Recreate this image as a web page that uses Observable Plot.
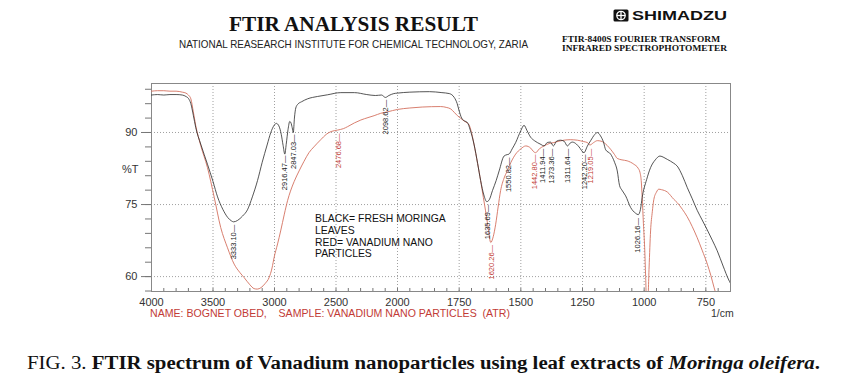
<!DOCTYPE html>
<html><head><meta charset="utf-8">
<script src="https://cdn.jsdelivr.net/npm/d3@7"></script>
<script src="https://cdn.jsdelivr.net/npm/@observablehq/plot@0.6"></script>
<style>
html,body{margin:0;padding:0;background:#fff}
#page{position:relative;width:848px;height:384px;overflow:hidden}
#chart{position:absolute;left:0;top:0}
.t{position:absolute;white-space:nowrap;line-height:1;transform-origin:0 0}
.sans{font-family:"Liberation Sans",Arial,sans-serif}
.serif{font-family:"Liberation Serif","Times New Roman",serif}
</style></head><body><div id="page"><div id="chart"></div></div>
<script>
// ---- data (wavenumber 1/cm, %T) ----
const blackSpectrum = [
[4000,97.8],[3950,97.9],[3900,97.8],[3850,97.9],[3800,97.9],[3750,97.8],[3720,97.5],[3700,97.1],[3680,96.0],[3660,93.6],[3640,91.0],[3600,87.6],[3545,83.4],[3500,79.8],[3463,76.6],[3420,74.0],[3380,72.3],[3350,71.6],[3333,71.4],[3300,71.7],[3260,72.6],[3220,73.9],[3180,76.6],[3138,80.0],[3100,83.8],[3060,87.4],[3030,90.0],[3003,91.5],[2985,91.9],[2965,91.4],[2945,89.6],[2930,87.3],[2916,85.5],[2905,87.5],[2890,90.6],[2876,92.3],[2866,92.0],[2856,91.0],[2847,90.0],[2838,93.0],[2827,95.1],[2810,95.9],[2780,96.4],[2732,97.0],[2650,97.5],[2569,97.85],[2461,98.3],[2350,98.3],[2250,97.9],[2180,97.7],[2130,97.8],[2098,97.3],[2070,97.7],[2030,98.1],[2000,98.2],[1950,98.4],[1870,98.5],[1820,98.3],[1790,98.1],[1770,97.3],[1758,96.0],[1750,94.5],[1740,93.0],[1728,92.4],[1717,92.1],[1705,90.5],[1690,87.6],[1675,83.5],[1663,80.0],[1650,77.0],[1638,75.6],[1628,76.0],[1615,77.9],[1600,80.0],[1588,82.0],[1568,85.1],[1555,85.4],[1548,85.5],[1535,86.6],[1521,87.9],[1500,90.4],[1487,91.5],[1475,90.4],[1460,89.0],[1445,88.3],[1433,87.9],[1418,87.5],[1406,87.2],[1393,87.9],[1380,88.0],[1368,87.2],[1355,88.2],[1340,88.4],[1325,88.2],[1311,87.2],[1300,87.8],[1291,88.0],[1275,87.6],[1264,87.0],[1244,85.8],[1230,87.2],[1217,88.3],[1200,89.6],[1190,90.0],[1177,89.3],[1165,88.0],[1156,86.4],[1136,85.5],[1120,83.8],[1109,82.0],[1100,79.0],[1090,78.0],[1075,76.8],[1055,74.4],[1035,73.2],[1024,72.9],[1015,74.0],[1008,76.5],[990,80.2],[974,82.7],[955,84.3],[936,85.1],[920,84.8],[906,84.4],[880,83.6],[866,83.0],[845,81.0],[825,78.5],[805,76.2],[785,73.8],[765,71.8],[744,69.7],[724,67.6],[704,65.4],[680,62.2],[657,59.3],[650,58.6]
];
const redSpectrum = [
[4000,98.6],[3950,98.7],[3900,98.7],[3850,98.6],[3800,98.6],[3750,98.4],[3720,98.2],[3700,97.8],[3680,97.0],[3660,94.3],[3640,91.4],[3600,87.3],[3545,82.7],[3490,76.5],[3437,70.2],[3382,66.0],[3328,62.6],[3280,60.8],[3247,59.8],[3200,58.3],[3166,57.5],[3140,57.4],[3110,57.7],[3075,58.6],[3044,59.8],[3020,61.8],[3003,64.0],[2975,66.8],[2950,69.5],[2920,73.0],[2894,75.8],[2870,77.8],[2840,79.8],[2800,82.0],[2760,84.0],[2720,85.8],[2680,87.0],[2624,88.5],[2580,89.6],[2540,90.2],[2488,90.5],[2440,90.8],[2407,91.2],[2350,92.0],[2298,92.6],[2240,93.1],[2190,93.5],[2136,94.0],[2081,94.3],[2000,94.8],[1950,95.1],[1900,95.3],[1825,95.4],[1800,95.2],[1784,94.9],[1770,94.2],[1757,93.5],[1745,93.0],[1730,92.4],[1718,92.0],[1710,91.6],[1700,90.0],[1690,87.6],[1675,83.5],[1663,80.0],[1652,76.5],[1643,73.7],[1632,70.0],[1622,67.1],[1612,68.3],[1602,70.9],[1592,74.5],[1582,77.9],[1568,80.5],[1555,82.0],[1540,83.8],[1521,85.5],[1500,86.6],[1480,87.2],[1460,86.75],[1448,86.0],[1440,85.8],[1425,86.6],[1406,87.2],[1385,87.7],[1366,87.9],[1345,88.2],[1325,88.4],[1300,88.5],[1271,88.4],[1245,88.1],[1230,87.9],[1220,87.4],[1205,87.9],[1190,88.3],[1175,88.2],[1163,87.9],[1150,87.3],[1136,86.5],[1120,85.4],[1109,84.6],[1090,84.3],[1069,84.1],[1042,83.4],[1025,82.6],[1017,81.7],[1012,80.0],[1008,76.5],[1003,71.0],[998,66.0],[994,60.0],[990,54.0],[986,54.0],[980,62.0],[974,69.5],[967,73.5],[961,76.0],[950,77.6],[941,78.2],[930,78.1],[906,77.6],[880,76.1],[866,75.4],[845,74.0],[826,72.5],[805,70.4],[785,68.1],[765,65.5],[744,62.6],[730,60.3],[717,57.8],[704,55.5],[690,53.0]
];
const blackPeakWn = [3333.10, 2916.47, 2847.03, 2098.62, 1635.69, 1550.82, 1411.94, 1373.36, 1311.64, 1242.20, 1026.16];
const blackPeakT  = [70.8, 85.2, 89.6, 96.8, 75.0, 84.8, 86.6, 86.6, 86.6, 85.4, 72.2];
const redPeakWn = [2476.68, 1620.26, 1442.80, 1219.05];
const redPeakT  = [89.8, 66.6, 85.4, 86.6];
const xTicks = [4000, 3500, 3000, 2500, 2000, 1750, 1500, 1250, 1000, 750];
const xMinorTicks = d3.range(4000, 2000, -100).concat(d3.range(2000, 649, -50));
const yTicks = [60, 75, 90];
const yMinorTicks = d3.range(57, 100, 3);
const legendLines = ["BLACK= FRESH MORINGA", "LEAVES", "RED= VANADIUM NANO", "PARTICLES"];

const page = document.getElementById("page");
function addText(html, cls, size, left, baseline, width, color, weight, style) {
  const d = document.createElement("div");
  d.className = "t " + cls;
  d.innerHTML = html;
  d.style.fontSize = size + "px";
  d.style.left = left + "px";
  const k = cls === "serif" ? 0.8375 : 0.8465;
  d.style.top = (baseline - k * size) + "px";
  d.style.color = color || "#111";
  if (weight) d.style.fontWeight = weight;
  if (style) d.style.fontStyle = style;
  if (width) d.dataset.w = width;
  page.appendChild(d);
  return d;
}

const BLK = "#2a2a2a", RED_LINE = "#d4705f", RED_TXT = "#c23b36";

const chart = Plot.plot({
  width: 848, height: 384,
  marginLeft: 151, marginRight: 118, marginTop: 83, marginBottom: 93,
  style: {fontFamily: "'Liberation Sans', Arial, sans-serif", fontSize: "11px", color: "#333", background: "transparent", overflow: "visible"},
  x: {type: "linear", domain: [4000, 2000, 650], range: [151, 397, 730]},
  y: {domain: [56.9, 100.2]},
  marks: [
    Plot.gridX(xTicks, {stroke: "#888", strokeOpacity: 1, strokeWidth: 0.8, strokeDasharray: "1,2"}),
    Plot.gridY(yTicks, {stroke: "#888", strokeOpacity: 1, strokeWidth: 0.8, strokeDasharray: "1,2"}),
    Plot.axisX(xMinorTicks, {tickSize: -3, tickFormat: () => "", fill: "none", stroke: "#777", label: null}),
    Plot.axisX(xTicks, {tickSize: 0, tickPadding: 7, tickFormat: d => String(d), fill: "#333", fontSize: 11, label: null}),
    Plot.axisY(yMinorTicks, {tickSize: 6, tickFormat: () => "", fill: "none", stroke: "#777", label: null}),
    Plot.axisY(yTicks, {tickSize: 10, tickPadding: 4, tickFormat: d => String(d), stroke: "#777", fill: "#333", fontSize: 11, label: null}),
    Plot.frame({stroke: "#888", strokeWidth: 1}),
    Plot.line(redSpectrum, {x: d => d[0], y: d => d[1], stroke: RED_LINE, strokeWidth: 0.9, curve: "monotone-x", clip: true}),
    Plot.line(blackSpectrum, {x: d => d[0], y: d => d[1], stroke: BLK, strokeWidth: 0.8, curve: "monotone-x", clip: true}),
    Plot.text(blackPeakWn, {x: d => d, y: (d, i) => blackPeakT[i], text: d => d.toFixed(2) + "—", rotate: -90, textAnchor: "end", fontSize: 7.5, fill: "#222"}),
    Plot.text(redPeakWn, {x: d => d, y: (d, i) => redPeakT[i], text: d => d.toFixed(2) + "—", rotate: -90, textAnchor: "end", fontSize: 7.5, fill: RED_TXT})
  ]
});
document.getElementById("chart").appendChild(chart);

// header
addText("FTIR ANALYSIS RESULT", "serif", 22, 229, 31.6, 249, "#111", "bold");
addText("NATIONAL REASEARCH INSTITUTE FOR CHEMICAL TECHNOLOGY, ZARIA", "sans", 11, 179, 48.3, 349, "#222");
const logo = document.createElement("div");
logo.className = "t";
logo.style.left = "613px"; logo.style.top = "9px";
logo.innerHTML = '<svg width="16" height="13"><rect x="0.5" y="0.5" width="15" height="12" rx="1.5" fill="#111"/><circle cx="8" cy="6.5" r="4.2" fill="none" stroke="#fff" stroke-width="1.3"/><line x1="3.8" y1="6.5" x2="12.2" y2="6.5" stroke="#fff" stroke-width="1.3"/><line x1="8" y1="2.3" x2="8" y2="10.7" stroke="#fff" stroke-width="1.3"/></svg>';
page.appendChild(logo);
addText("SHIMADZU", "sans", 12, 632, 19.8, 95, "#111", "bold");
addText("FTIR-8400S FOURIER TRANSFORM", "serif", 9, 562, 42.5, 158, "#111", "bold");
addText("INFRARED SPECTROPHOTOMETER", "serif", 9, 562, 51.6, 165, "#111", "bold");
// axis extras
addText("%T", "sans", 11, 122, 173, null, "#333");
const legendBase = [223.3, 235, 247.3, 258.3];
legendLines.forEach((s, i) => addText(s, "sans", 10.4, 315, legendBase[i], null, "#111"));
addText("NAME: BOGNET OBED,&nbsp;&nbsp;&nbsp;&nbsp;SAMPLE: VANADIUM NANO PARTICLES&nbsp;&nbsp;(ATR)", "sans", 10.5, 150, 317.3, 360, RED_TXT);
addText("1/cm", "sans", 10.5, 711, 317.3, null, "#333");
// caption
addText('FIG. 3. <b>FTIR spectrum of Vanadium nanoparticles using leaf extracts of <i>Moringa oleifera</i>.</b>', "serif", 18, 27, 369, 793, "#111");

function fitAll() {
  document.querySelectorAll(".t[data-w]").forEach(el => {
    el.style.transform = "";
    const a = el.getBoundingClientRect().width;
    if (a > 0) el.style.transform = "scaleX(" + (+el.dataset.w / a) + ")";
  });
}
fitAll();
if (document.fonts && document.fonts.ready) document.fonts.ready.then(fitAll);
</script></body></html>
